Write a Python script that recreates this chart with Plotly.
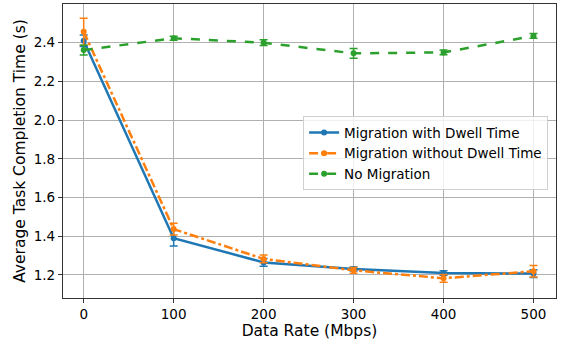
import plotly.graph_objects as go

rates = [0, 100, 200, 300, 400, 500]
with_dwell = [2.41, 1.39, 1.265, 1.231, 1.21, 1.207]
with_dwell_err = [0.03, 0.04, 0.02, 0.01, 0.012, 0.02]
without_dwell = [2.457, 1.437, 1.283, 1.224, 1.183, 1.219]
without_dwell_err = [0.07, 0.03, 0.02, 0.015, 0.02, 0.03]
no_mig = [2.362, 2.423, 2.40, 2.345, 2.35, 2.435]
no_mig_err = [0.025, 0.01, 0.015, 0.025, 0.012, 0.012]

series = [
    ("Migration with Dwell Time", with_dwell, with_dwell_err, "#1f77b4", "solid"),
    ("Migration without Dwell Time", without_dwell, without_dwell_err, "#ff7f0e", "dashdot"),
    ("No Migration", no_mig, no_mig_err, "#2ca02c", "dash"),
]

fig = go.Figure()
for name, y, e, c, d in series:
    fig.add_trace(go.Scatter(
        x=rates, y=y, name=name, mode="lines+markers",
        line=dict(color=c, width=2.5, dash=d),
        marker=dict(color=c, size=6, symbol="circle"),
        error_y=dict(type="data", array=e, visible=True, color=c, thickness=1.5, width=4),
    ))

axis_common = dict(
    showline=True, linecolor="#333333", linewidth=1.2, mirror=True,
    showgrid=True, gridcolor="#b0b0b0", gridwidth=1,
    ticks="outside", ticklen=4, tickcolor="#333333",
    tickfont=dict(family="DejaVu Sans", size=13.5, color="black"),
    zeroline=False,
)

fig.update_layout(
    width=563, height=344,
    margin=dict(l=63, r=7, t=4, b=46),
    paper_bgcolor="white", plot_bgcolor="white",
    font=dict(family="DejaVu Sans", color="black"),
    xaxis=dict(range=[-23, 525], tickvals=rates,
               title=dict(text="Data Rate (Mbps)", font=dict(size=15.5), standoff=2),
               **axis_common),
    yaxis=dict(range=[1.081, 2.6], tickvals=[1.2, 1.4, 1.6, 1.8, 2.0, 2.2, 2.4],
               ticktext=["1.2", "1.4", "1.6", "1.8", "2.0", "2.2", "2.4"],
               title=dict(text="Average Task Completion Time (s)", font=dict(size=15.5), standoff=4),
               **axis_common),
    legend=dict(x=0.984, y=0.618, xanchor="right", yanchor="top",
                bgcolor="rgba(255,255,255,0.8)", bordercolor="#d0d0d0", borderwidth=1,
                font=dict(size=13.5, family="DejaVu Sans"), tracegroupgap=0,
                itemwidth=30),
    showlegend=True,
)

fig.write_html("out.html")
